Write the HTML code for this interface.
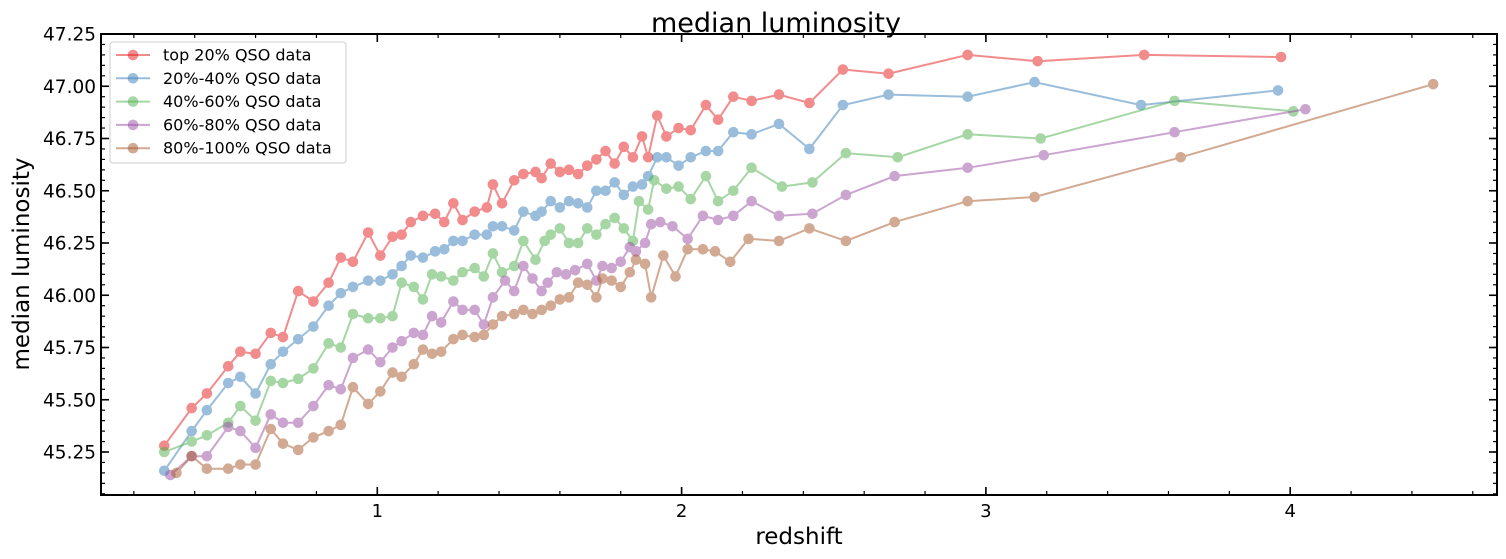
<!DOCTYPE html>
<html><head><meta charset="utf-8"><style>
body{margin:0;background:#fff;}
svg{display:block;font-family:"DejaVu Sans","Liberation Sans",sans-serif;}
</style></head><body>
<svg id="chart" width="1506" height="559" viewBox="0 0 1506 559">
<text x="776" y="32" font-size="27" text-anchor="middle">median luminosity</text>
<text x="799" y="544" font-size="23" text-anchor="middle">redshift</text>
<text transform="translate(29,264) rotate(-90)" font-size="23" text-anchor="middle">median luminosity</text>
<g id="ticks"></g>
<g id="series"></g>
<rect x="101" y="34" width="1396" height="461" fill="none" stroke="#000" stroke-width="2"/>
<g id="legend"></g>
</svg>
<script>
const seriesNames = ["top 20% QSO data","20%-40% QSO data","40%-60% QSO data","60%-80% QSO data","80%-100% QSO data"];
const colors = ["#e41a1c","#377eb8","#4daf4a","#984ea3","#a65628"];
const xTicks = [1,2,3,4];
const yTicks = [45.25,45.5,45.75,46.0,46.25,46.5,46.75,47.0,47.25];
const redX = [0.30,0.39,0.44,0.51,0.55,0.60,0.65,0.69,0.74,0.79,0.84,0.88,0.92,0.97,1.01,1.05,1.08,1.11,1.15,1.19,1.22,1.25,1.28,1.32,1.36,1.38,1.41,1.45,1.48,1.52,1.54,1.57,1.60,1.63,1.66,1.69,1.72,1.75,1.78,1.81,1.84,1.87,1.89,1.92,1.95,1.99,2.03,2.08,2.12,2.17,2.23,2.32,2.42,2.53,2.68,2.94,3.17,3.52,3.97];
const redY = [45.28,45.46,45.53,45.66,45.73,45.72,45.82,45.80,46.02,45.97,46.06,46.18,46.16,46.30,46.19,46.28,46.29,46.35,46.38,46.39,46.35,46.44,46.36,46.40,46.42,46.53,46.44,46.55,46.58,46.59,46.56,46.63,46.59,46.60,46.58,46.62,46.65,46.69,46.63,46.71,46.66,46.76,46.66,46.86,46.76,46.80,46.79,46.91,46.84,46.95,46.93,46.96,46.92,47.08,47.06,47.15,47.12,47.15,47.14];
const blueX = [0.30,0.39,0.44,0.51,0.55,0.60,0.65,0.69,0.74,0.79,0.84,0.88,0.92,0.97,1.01,1.05,1.08,1.11,1.15,1.19,1.22,1.25,1.28,1.32,1.36,1.38,1.41,1.45,1.48,1.52,1.54,1.57,1.60,1.63,1.66,1.69,1.72,1.75,1.78,1.81,1.84,1.87,1.89,1.92,1.95,1.99,2.03,2.08,2.12,2.17,2.23,2.32,2.42,2.53,2.68,2.94,3.16,3.51,3.96];
const blueY = [45.16,45.35,45.45,45.58,45.61,45.53,45.67,45.73,45.79,45.85,45.95,46.01,46.04,46.07,46.07,46.10,46.14,46.19,46.18,46.21,46.22,46.26,46.26,46.29,46.29,46.33,46.33,46.31,46.40,46.38,46.40,46.45,46.42,46.45,46.44,46.42,46.50,46.50,46.54,46.48,46.52,46.53,46.57,46.66,46.66,46.62,46.66,46.69,46.69,46.78,46.77,46.82,46.70,46.91,46.96,46.95,47.02,46.91,46.98];
const greenX = [0.30,0.39,0.44,0.51,0.55,0.60,0.65,0.69,0.74,0.79,0.84,0.88,0.92,0.97,1.01,1.05,1.08,1.12,1.15,1.18,1.21,1.25,1.28,1.32,1.35,1.38,1.41,1.45,1.48,1.52,1.55,1.57,1.60,1.63,1.66,1.69,1.72,1.75,1.78,1.81,1.84,1.86,1.89,1.91,1.95,1.99,2.03,2.08,2.12,2.17,2.23,2.33,2.43,2.54,2.71,2.94,3.18,3.62,4.01];
const greenY = [45.25,45.30,45.33,45.39,45.47,45.40,45.59,45.58,45.60,45.65,45.77,45.75,45.91,45.89,45.89,45.90,46.06,46.04,45.98,46.10,46.09,46.07,46.11,46.13,46.09,46.20,46.11,46.14,46.26,46.17,46.26,46.29,46.32,46.25,46.25,46.32,46.29,46.34,46.37,46.32,46.26,46.45,46.41,46.55,46.51,46.52,46.46,46.57,46.45,46.50,46.61,46.52,46.54,46.68,46.66,46.77,46.75,46.93,46.88];
const purpleX = [0.32,0.39,0.44,0.51,0.55,0.60,0.65,0.69,0.74,0.79,0.84,0.88,0.92,0.97,1.01,1.05,1.08,1.12,1.15,1.18,1.21,1.25,1.28,1.32,1.35,1.38,1.42,1.45,1.48,1.51,1.54,1.56,1.59,1.62,1.65,1.69,1.72,1.74,1.77,1.80,1.83,1.85,1.88,1.90,1.93,1.97,2.02,2.07,2.12,2.17,2.23,2.32,2.43,2.54,2.70,2.94,3.19,3.62,4.05];
const purpleY = [45.14,45.23,45.23,45.37,45.35,45.27,45.43,45.39,45.39,45.47,45.57,45.55,45.70,45.74,45.68,45.75,45.78,45.82,45.81,45.90,45.87,45.97,45.93,45.93,45.86,45.99,46.07,46.02,46.14,46.08,46.02,46.06,46.11,46.10,46.12,46.15,46.07,46.14,46.13,46.16,46.23,46.21,46.25,46.34,46.35,46.33,46.27,46.38,46.36,46.38,46.45,46.38,46.39,46.48,46.57,46.61,46.67,46.78,46.89];
const brownX = [0.34,0.39,0.44,0.51,0.55,0.60,0.65,0.69,0.74,0.79,0.84,0.88,0.92,0.97,1.01,1.05,1.08,1.12,1.15,1.18,1.21,1.25,1.28,1.32,1.35,1.38,1.41,1.45,1.48,1.51,1.54,1.57,1.60,1.63,1.66,1.69,1.72,1.74,1.77,1.80,1.83,1.85,1.88,1.90,1.94,1.98,2.02,2.07,2.11,2.16,2.22,2.32,2.42,2.54,2.70,2.94,3.16,3.64,4.47];
const brownY = [45.15,45.23,45.17,45.17,45.19,45.19,45.36,45.29,45.26,45.32,45.35,45.38,45.56,45.48,45.54,45.63,45.61,45.67,45.74,45.72,45.73,45.79,45.81,45.80,45.81,45.86,45.90,45.91,45.93,45.91,45.93,45.95,45.98,45.99,46.06,46.05,45.99,46.08,46.07,46.04,46.11,46.17,46.15,45.99,46.19,46.09,46.22,46.22,46.21,46.16,46.27,46.26,46.32,46.26,46.35,46.45,46.47,46.66,47.01];

const allX = [redX,blueX,greenX,purpleX,brownX];
const allY = [redY,blueY,greenY,purpleY,brownY];
const NS = "http://www.w3.org/2000/svg";
const L=101,R=1497,T=34,B=495;
function sx(v){return 73+v*304.3;}
function sy(v){return T+(47.25-v)*209;}
function mk(tag,attrs,parent){const e=document.createElementNS(NS,tag);for(const k in attrs)e.setAttribute(k,attrs[k]);parent.appendChild(e);return e;}

const tg=document.getElementById('ticks');
for(let i=1;i<=23;i++){const v=i*0.2;const x=sx(v);if(x<=L+1||x>=R-1)continue;
 const a=mk('line',{x1:x,x2:x,y1:B,y2:B-4,stroke:'#000','stroke-width':1.2},tg);
 
 const b=mk('line',{x1:x,x2:x,y1:T,y2:T+4,stroke:'#000','stroke-width':1.2},tg);
 }
for(let i=0;i<=45;i++){const v=45.05+i*0.05;const y=sy(v);if(y<=T+1||y>=B-1)continue;
 const a=mk('line',{x1:L,x2:L+4,y1:y,y2:y,stroke:'#000','stroke-width':1.2},tg);
 
 const b=mk('line',{x1:R,x2:R-4,y1:y,y2:y,stroke:'#000','stroke-width':1.2},tg);
 }
xTicks.forEach(v=>{const x=sx(v);
 const a=mk('line',{x1:x,x2:x,y1:B,y2:B-8,stroke:'#000','stroke-width':1.6},tg);
 
 const b=mk('line',{x1:x,x2:x,y1:T,y2:T+8,stroke:'#000','stroke-width':1.6},tg);
 
 const t=mk('text',{x:x,y:517,'font-size':18,'text-anchor':'middle'},tg);t.textContent=String(v);
 });
yTicks.forEach(v=>{const y=sy(v);
 const a=mk('line',{x1:L,x2:L+8,y1:y,y2:y,stroke:'#000','stroke-width':1.6},tg);
 
 const b=mk('line',{x1:R,x2:R-8,y1:y,y2:y,stroke:'#000','stroke-width':1.6},tg);
 
 const t=mk('text',{x:96,y:y+6.5,'font-size':18.5,'text-anchor':'end'},tg);t.textContent=v.toFixed(2);
 });

const sg=document.getElementById('series');
allX.forEach((xs,si)=>{
 const g=mk('g',{opacity:0.5},sg);
 
 
 const pts=xs.map((x,i)=>sx(x).toFixed(1)+','+sy(allY[si][i]).toFixed(1)).join(' ');
 const pl=mk('polyline',{points:pts,fill:'none',stroke:colors[si],'stroke-width':2},g);
 
 
 xs.forEach((x,i)=>{const c=mk('circle',{cx:sx(x),cy:sy(allY[si][i]),r:5.3,fill:colors[si]},g);
  
  });
});

const lg=document.getElementById('legend');
const box=mk('rect',{x:110,y:42,width:236,height:121,rx:3,fill:'#fff','fill-opacity':0.8,stroke:'#ccc','stroke-width':1},lg);


seriesNames.forEach((n,i)=>{const y=55+i*23.3;
 const g=mk('g',{},lg);
 
 
 mk('line',{x1:116,x2:150,y1:y,y2:y,stroke:colors[i],'stroke-width':2,opacity:0.5},g);
 mk('circle',{cx:133,cy:y,r:5.3,fill:colors[i],opacity:0.5},g);
 const t=mk('text',{x:163,y:y+5.5,'font-size':16},g);t.textContent=n;});
</script>
</body></html>
